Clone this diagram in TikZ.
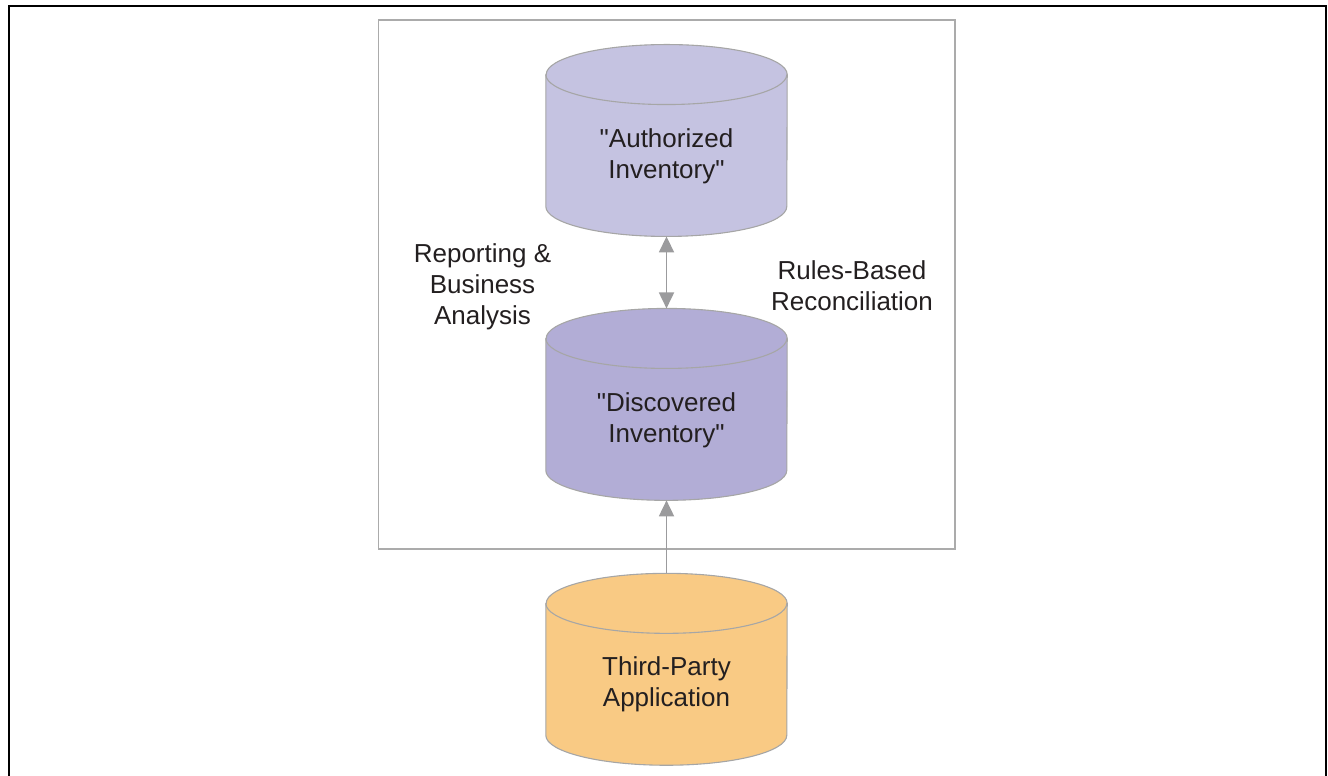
\documentclass[tikz,border=0pt]{standalone}
\usepackage{fontspec}
\setmainfont{Liberation Sans}[Ligatures=TeXOff]
\usepackage{xcolor}
\usetikzlibrary{arrows.meta}
\usetikzlibrary{calc}
\usetikzlibrary{positioning}

\definecolor{authfill}{HTML}{C5C3E1}
\definecolor{discfill}{HTML}{B2ADD6}
\definecolor{thirdfill}{HTML}{F9CA84}
\definecolor{dbedge}{HTML}{A6A6A6}
\definecolor{flowgray}{HTML}{9B9B9D}
\definecolor{boxgray}{HTML}{ABABAB}
\definecolor{txt}{HTML}{231F20}

% cylinder drawn over the (empty) node #1, filled with #2
\newcommand{\dbshape}[2]{%
  \filldraw[dbline, fill=#2] ($(#1.north west)+(0,-30)$) -- ($(#1.south west)+(0,30)$)
    arc[start angle=180, end angle=360, x radius=120.5pt, y radius=30pt]
    -- ($(#1.north east)+(0,-30)$)
    arc[start angle=0, end angle=180, x radius=120.5pt, y radius=30pt] -- cycle;
  \draw[dbline] ($(#1.north west)+(0,-30)$)
    arc[start angle=180, end angle=360, x radius=120.5pt, y radius=30pt];
}

\begin{document}
\begin{tikzpicture}[x=1pt,y=1pt,>={Triangle[length=16pt,width=15pt]},node distance=72pt,
  font=\fontsize{26}{31}\selectfont, text=txt]
  \tikzstyle{db}=[rectangle, inner sep=0pt, minimum width=241pt, minimum height=191.5pt]
  \tikzstyle{dbline}=[draw=dbedge, line width=1.1pt]
  \tikzstyle{dbtext}=[align=center, inner sep=0pt]
  \tikzstyle{flow}=[draw=flowgray, line width=1.8pt]
  \useasboundingbox (0,0) rectangle (1328,776);
  \draw[line width=2.2pt] (9,-5) rectangle (1326,770);
  \draw[boxgray, line width=1.3pt] (378.5,227) rectangle (955,756);

  \node[db]          (auth) at (666.5,635.5) {};
  \node[db]          (disc)  [below=of auth] {};
  \node[db]          (third) [below=73pt of disc] {};

  \dbshape{auth}{authfill}
  \dbshape{disc}{discfill}
  \dbshape{third}{thirdfill}

  \node[dbtext] (authtext)  at ($(auth)+(0,-16)$)  {"Authorized\\Inventory"};
  \node[dbtext] (disctext)  at ($(disc)+(0,-16)$)  {"Discovered\\Inventory"};
  \node[dbtext] (thirdtext) at ($(third)+(0,-15)$) {Third-Party\\Application};

  \node[dbtext] (report) at (482.5,489) {Reporting \&\\Business\\Analysis};
  \node[dbtext] (rules)  at (852,490)   {Rules-Based\\Reconciliation};

  \draw[flow, <->] (auth.south) -- (disc.north);
  \draw[flow, ->]  (third.north) -- (disc.south);
\end{tikzpicture}
\end{document}
